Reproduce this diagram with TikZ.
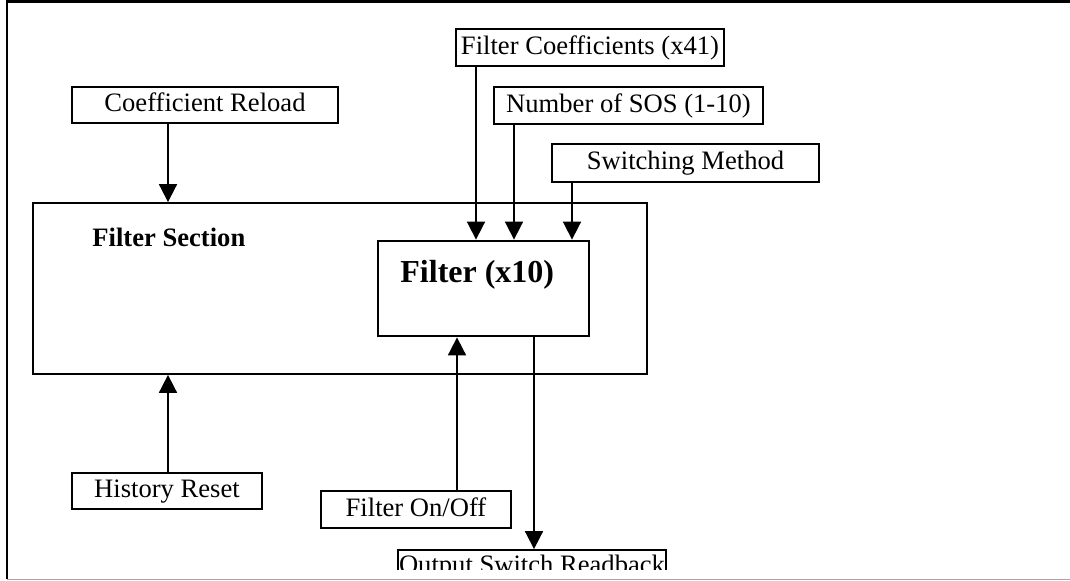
\documentclass[tikz,border=0pt]{standalone}
\usepackage{fontspec}
\setmainfont{Liberation Serif}
\usetikzlibrary{arrows.meta}
\tikzset{
  lbl/.style={draw, line width=0.9pt, inner sep=0pt, text height=0.76em, text depth=0.1em,
    font=\fontsize{13.3}{15}\selectfont},
  arr/.style={line width=0.9pt, -{Triangle[length=9pt,width=9pt]}},
  plainbox/.style={draw, line width=0.9pt, inner sep=0pt},
  thickbox/.style={draw, line width=1.4pt, inner sep=0pt},
}
\begin{document}
\begin{tikzpicture}[x=0.5pt,y=-0.5pt]
\useasboundingbox (0,0) rectangle (1070,581);
% frame
\draw[line width=1.3pt] (1070,1.5) -- (7,1.5) -- (7,579);
\draw[line width=0.8pt, gray!70] (7,579.6) -- (1070,579.6);

% top input boxes
\node[lbl, minimum width=134pt, minimum height=18.5pt] (fc) at (590,47.5) {Filter Coefficients (x41)};
\node[lbl, minimum width=134.5pt, minimum height=18.5pt] (sos) at (628.5,105.5) {Number of SOS (1-10)};
\node[lbl, minimum width=133.5pt, minimum height=19pt] (sm) at (685.5,163) {Switching Method};
\node[lbl, minimum width=133pt, minimum height=18pt] (cr) at (205,105) {Coefficient Reload};

% section and filter
\node[plainbox, minimum width=307pt, minimum height=85.5pt] (sec) at (340,288.5) {};
\node[thickbox, minimum width=105.5pt, minimum height=47.5pt] (flt) at (483.5,288.5) {};
\node[anchor=base west, inner sep=0pt, font=\fontsize{13.3}{15}\selectfont\bfseries] (sectxt) at (92,247) {Filter Section};
\node[anchor=base west, inner sep=0pt, font=\fontsize{16}{19}\selectfont\bfseries] (flttxt) at (400,283) {Filter (x10)};

% bottom boxes
\node[lbl, minimum width=95pt, minimum height=18pt] (hr) at (167,491) {History Reset};
\node[lbl, minimum width=95pt, minimum height=18.5pt] (onoff) at (416,509.5) {Filter On/Off};
\begin{scope}
\clip (0,0) rectangle (1070,570);
\node[lbl, text depth=0.3em, minimum width=134pt, minimum height=18.5pt] (osr) at (532,568.5) {Output Switch Readback};
\end{scope}

% connectors
\draw[arr] ([xshift=-57pt]fc.south) coordinate (a1) -- (a1 |- flt.north);
\draw[arr] ([xshift=-57.25pt]sos.south) coordinate (a2) -- (a2 |- flt.north);
\draw[arr] ([xshift=-56.75pt]sm.south) coordinate (a3) -- (a3 |- flt.north);
\draw[arr] ([xshift=-18.5pt]cr.south) coordinate (a4) -- (a4 |- sec.north);
\draw[arr] ([xshift=0.5pt]hr.north) coordinate (a5) -- (a5 |- sec.south);
\draw[arr] ([xshift=20.5pt]onoff.north) coordinate (a6) -- (a6 |- flt.south);
\draw[arr] ([xshift=25.25pt]flt.south) coordinate (a7) -- (a7 |- osr.north);
\end{tikzpicture}
\end{document}
